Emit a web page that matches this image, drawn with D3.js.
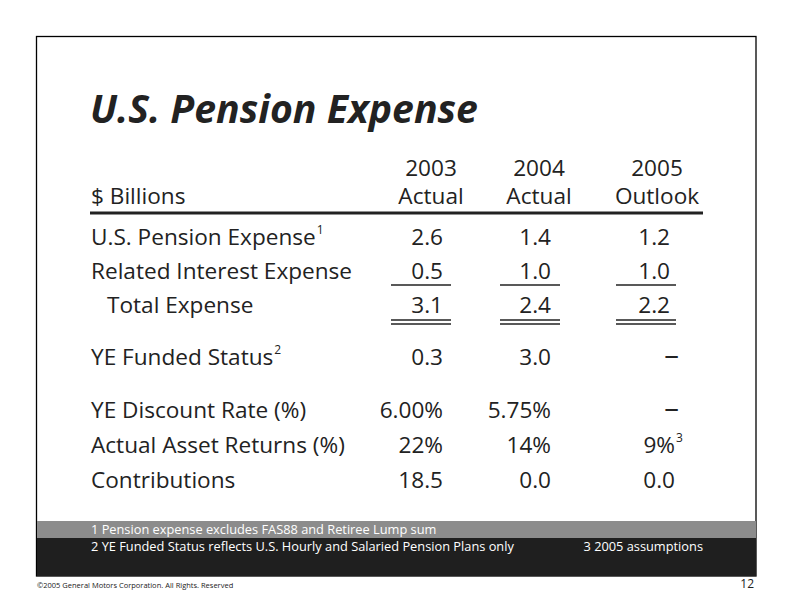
<!DOCTYPE html>
<html><head><meta charset="utf-8">
<script src="https://cdn.jsdelivr.net/npm/d3@7"></script>
<style>html,body{margin:0;padding:0;background:#fff;}</style>
</head><body>
<script>
const title = "U.S. Pension Expense";
const unitLabel = "$ Billions";
const years = ["2003", "2004", "2005"];
const yearSubs = ["Actual", "Actual", "Outlook"];
const rowLabels = ["U.S. Pension Expense", "Related Interest Expense", "Total Expense", "YE Funded Status", "YE Discount Rate (%)", "Actual Asset Returns (%)", "Contributions"];
const rowNotes = ["1", "", "", "2", "", "", ""];
const values2003 = ["2.6", "0.5", "3.1", "0.3", "6.00%", "22%", "18.5"];
const values2004 = ["1.4", "1.0", "2.4", "3.0", "5.75%", "14%", "0.0"];
const values2005 = ["1.2", "1.0", "2.2", "–", "–", "9%", "0.0"];
const notes2005 = ["", "", "", "", "", "3", ""];
const footnotes = ["1 Pension expense excludes FAS88 and Retiree Lump sum", "2 YE Funded Status reflects U.S. Hourly and Salaried Pension Plans only"];
const footnoteRight = "3 2005 assumptions";
const copyright = "©2005 General Motors Corporation. All Rights. Reserved";
const pageNum = "12";

const W = 792, H = 612;
const svg = d3.select("body").append("svg").attr("width", W).attr("height", H);
const font = "'Open Sans', 'Noto Sans', sans-serif";
const ink = "#222";
const fs = 22.6;

// frame
svg.append("rect").attr("x", 36.5).attr("y", 36.5).attr("width", 719.5).attr("height", 539.5)
  .attr("fill", "#fff").attr("stroke", "#000").attr("stroke-width", 1.3);

// footer bands
svg.append("rect").attr("x", 37).attr("y", 521).attr("width", 719).attr("height", 17).attr("fill", "#8c8c8c");
svg.append("rect").attr("x", 37).attr("y", 538).attr("width", 719).attr("height", 38).attr("fill", "#1f1f1f");

// title
svg.append("text").attr("x", 90).attr("y", 123).text(title)
  .attr("font-family", font).attr("font-weight", 700).attr("font-style", "italic")
  .attr("font-size", 39.2).attr("fill", ink);

// scales
const colX = d3.scaleOrdinal().domain(years).range([443, 551, 670]);
const headX = d3.scaleOrdinal().domain(years).range([431, 539, 657]);
const rowY = d3.scaleOrdinal().domain(rowLabels).range([245, 279, 313, 365, 418, 453, 488]);
const labelX = d3.scaleOrdinal().domain(rowLabels).range([91, 91, 107, 91, 91, 91, 91]);

// header
const head = svg.append("g").attr("font-family", font).attr("font-size", fs).attr("fill", ink);
head.selectAll("text.yr").data(years).join("text").attr("class", "yr")
  .attr("x", d => headX(d)).attr("y", 176).attr("text-anchor", "middle").text(d => d);
head.selectAll("text.sub").data(years).join("text").attr("class", "sub")
  .attr("x", d => headX(d)).attr("y", 204).attr("text-anchor", "middle").text((d, i) => yearSubs[i]);
head.append("text").attr("x", 91).attr("y", 204).text(unitLabel);
svg.append("line").attr("x1", 90).attr("x2", 703).attr("y1", 213).attr("y2", 213)
  .attr("stroke", ink).attr("stroke-width", 3);

// row labels
const rows = svg.append("g").attr("font-family", font).attr("font-size", fs).attr("fill", ink);
rowLabels.forEach((lab, i) => {
  const t = rows.append("text").attr("x", labelX(lab)).attr("y", rowY(lab)).text(lab);
  if (rowNotes[i]) t.append("tspan").attr("font-size", 12).attr("dy", -11).attr("dx", 1).text(rowNotes[i]);
});

// values
const cols = [values2003, values2004, values2005];
cols.forEach((vals, c) => {
  const yr = years[c];
  vals.forEach((v, i) => {
    const lab = rowLabels[i];
    const isDash = v === "–";
    const t = rows.append("text").attr("x", colX(yr) + (isDash ? 9 : 0) + (c === 2 && i >= 5 ? 5 : 0))
      .attr("y", rowY(lab)).attr("text-anchor", "end").text(v);
    if (isDash) t.attr("font-size", fs * 1.3);
    if (c === 2 && notes2005[i]) {
      rows.append("text").attr("x", colX(yr) + 6).attr("y", rowY(lab) - 11)
        .attr("font-size", 12).text(notes2005[i]);
    }
  });
});

// underlines
const ulStart = d3.scaleOrdinal().domain(years).range([391, 500, 616]);
const ulG = svg.append("g").attr("stroke", ink).attr("stroke-width", 1.4);
years.forEach(yr => {
  const x1 = ulStart(yr), x2 = x1 + 60;
  ulG.append("line").attr("x1", x1).attr("x2", x2).attr("y1", rowY(rowLabels[1]) + 6).attr("y2", rowY(rowLabels[1]) + 6);
  ulG.append("line").attr("x1", x1).attr("x2", x2).attr("y1", rowY(rowLabels[2]) + 7).attr("y2", rowY(rowLabels[2]) + 7);
  ulG.append("line").attr("x1", x1).attr("x2", x2).attr("y1", rowY(rowLabels[2]) + 11).attr("y2", rowY(rowLabels[2]) + 11);
});

// footnotes
const fn = svg.append("g").attr("font-family", font).attr("font-size", 12.8).attr("fill", "#fff");
fn.selectAll("text.fn").data(footnotes).join("text").attr("class", "fn")
  .attr("x", 91).attr("y", (d, i) => 534 + i * 17).text(d => d);
fn.append("text").attr("x", 703).attr("y", 551).attr("text-anchor", "end").text(footnoteRight);

svg.append("text").attr("x", 37).attr("y", 588).attr("font-family", font).attr("font-size", 7.5)
  .attr("fill", ink).text(copyright);
svg.append("text").attr("x", 754).attr("y", 588).attr("text-anchor", "end").attr("font-family", font)
  .attr("font-size", 12).attr("fill", ink).text(pageNum);
</script>
</body></html>
